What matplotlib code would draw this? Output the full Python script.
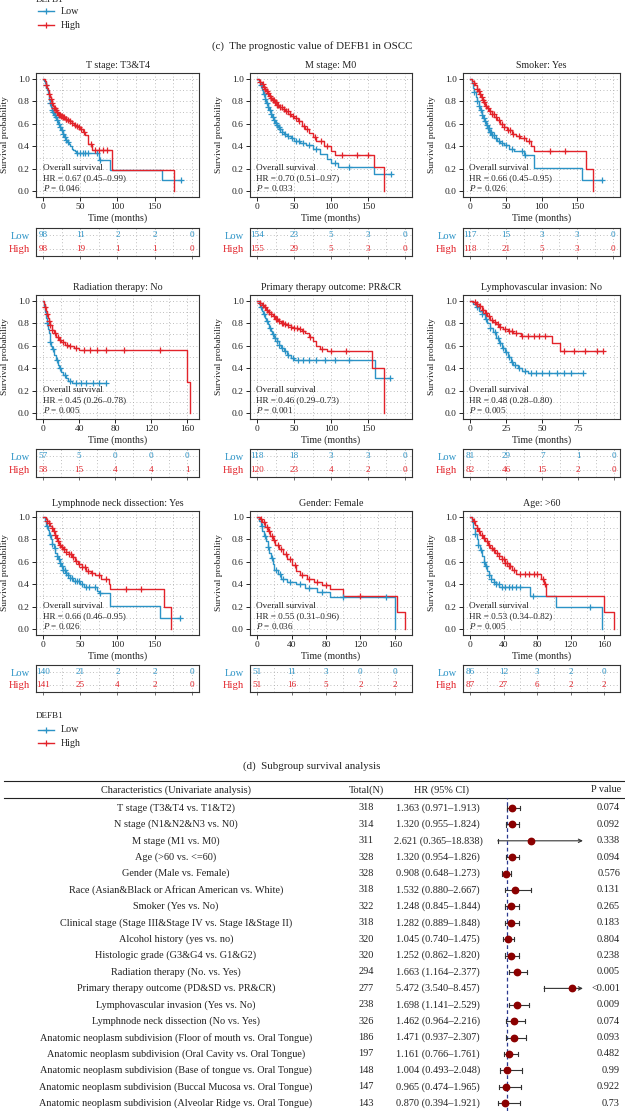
import numpy as np
import matplotlib
matplotlib.use('Agg')
import matplotlib.pyplot as plt
from matplotlib.ticker import MultipleLocator

plt.rcParams['font.family'] = ['Liberation Serif', 'DejaVu Serif']
plt.rcParams['mathtext.fontset'] = 'custom'
plt.rcParams['mathtext.rm'] = 'Liberation Serif'
plt.rcParams['mathtext.it'] = 'Liberation Serif:italic'

LOW_C = '#2b93c6'
HIGH_C = '#e2232a'
TXT = '#222222'

# ---------------- KM panel data ----------------
panel_titles = ["T stage: T3&T4", "M stage: M0", "Smoker: Yes",
                "Radiation therapy: No", "Primary therapy outcome: PR&CR", "Lymphovascular invasion: No",
                "Lymphnode neck dissection: Yes", "Gender: Female", "Age: >60"]
panel_hr = ["0.67 (0.45\u20130.99)", "0.70 (0.51\u20130.97)", "0.66 (0.45\u20130.95)",
            "0.45 (0.26\u20130.78)", "0.46 (0.29\u20130.73)", "0.48 (0.28\u20130.80)",
            "0.66 (0.46\u20130.95)", "0.55 (0.31\u20130.96)", "0.53 (0.34\u20130.82)"]
panel_p = ["0.046", "0.033", "0.026", "0.005", "0.001", "0.005", "0.026", "0.036", "0.005"]

ticks_50 = [0, 50, 100, 150]
ticks_40 = [0, 40, 80, 120, 160]
ticks_25 = [0, 25, 50, 75]
risk_t50 = [0, 50, 100, 150, 200]
risk_t40 = [0, 40, 80, 120, 160]
risk_t25 = [0, 25, 50, 75, 100]

risk_low = [[98, 11, 2, 2, 0], [154, 23, 5, 3, 0], [117, 15, 3, 3, 0],
            [57, 5, 0, 0, 0], [118, 18, 3, 3, 0], [81, 29, 7, 1, 0],
            [140, 21, 2, 2, 0], [51, 11, 3, 0, 0], [86, 12, 3, 2, 0]]
risk_high = [[98, 19, 1, 1, 0], [155, 29, 5, 3, 0], [118, 21, 5, 3, 0],
             [58, 15, 4, 4, 1], [120, 23, 4, 2, 0], [82, 46, 15, 2, 0],
             [141, 25, 4, 2, 0], [51, 16, 5, 2, 2], [87, 27, 6, 2, 2]]

# P1 T stage
p1_low_t = [0,1,2,3,4,5,6,7,8,9,10,11,12,14,16,18,20,22,24,26,28,30,32,34,36,38,40,42,44,75,90,160,186]
p1_low_s = [1.0,0.98,0.96,0.94,0.92,0.90,0.87,0.84,0.81,0.78,0.75,0.72,0.70,0.68,0.66,0.63,0.60,0.57,0.54,0.51,0.48,0.46,0.44,0.42,0.40,0.38,0.37,0.355,0.34,0.28,0.19,0.10,0.10]
p1_low_c = [3,9,11,13,15,17,19,21,23,25,27,29,31,33,45,50,53,56,60,73,77,186]
p1_high_t = [0,2,3,4,5,6,7,8,9,10,11,12,13,14,16,18,20,23,26,29,32,35,38,41,44,47,50,53,56,60,66,92,176]
p1_high_s = [1.0,0.98,0.96,0.94,0.92,0.90,0.88,0.86,0.84,0.82,0.80,0.78,0.76,0.74,0.72,0.70,0.68,0.67,0.66,0.64,0.63,0.62,0.61,0.59,0.58,0.57,0.55,0.53,0.50,0.42,0.37,0.19,0.0]
p1_high_c = [4,8,10,12,14,15,17,19,21,22,24,25,27,28,30,31,33,36,39,42,45,48,51,55,64,70,75,80,86]
# P2 M stage
p2_low_t = [0,2,4,6,8,10,12,14,16,18,20,22,24,26,28,30,33,36,40,45,50,58,66,75,85,95,100,110,158,182]
p2_low_s = [1.0,0.97,0.94,0.90,0.86,0.82,0.78,0.75,0.72,0.69,0.66,0.63,0.61,0.59,0.57,0.55,0.53,0.51,0.49,0.47,0.45,0.43,0.41,0.38,0.33,0.29,0.25,0.22,0.15,0.15]
p2_low_c = [5,9,11,13,15,17,19,21,23,25,27,29,31,34,38,42,47,52,56,62,70,80,105,125,182]
p2_high_t = [0,2,4,6,8,10,12,14,16,18,20,23,26,30,34,38,42,46,50,55,60,65,70,75,80,90,100,105,158,172]
p2_high_s = [1.0,0.99,0.97,0.95,0.93,0.91,0.89,0.87,0.85,0.83,0.81,0.79,0.77,0.75,0.73,0.71,0.69,0.67,0.65,0.62,0.58,0.55,0.52,0.48,0.45,0.40,0.36,0.32,0.22,0.0]
p2_high_c = [4,7,9,11,13,15,17,19,21,22,24,25,27,28,31,33,36,39,41,44,48,52,57,63,68,78,86,95,115,135,150]
# P3 Smoker
p3_low_t = [0,2,4,6,8,10,12,14,16,18,20,22,24,27,30,34,38,42,48,55,62,75,90,157,185]
p3_low_s = [1.0,0.96,0.92,0.88,0.84,0.80,0.76,0.72,0.68,0.65,0.62,0.59,0.56,0.53,0.50,0.47,0.45,0.43,0.41,0.38,0.36,0.32,0.21,0.10,0.10]
p3_low_c = [6,10,13,15,17,19,21,23,25,26,28,29,31,33,36,40,45,50,58,72,77,185]
p3_high_t = [0,3,5,7,9,11,13,15,17,19,21,24,27,30,34,38,42,47,52,58,64,70,78,85,90,163,172]
p3_high_s = [1.0,0.98,0.96,0.94,0.91,0.89,0.86,0.84,0.81,0.79,0.76,0.74,0.71,0.69,0.66,0.63,0.60,0.57,0.54,0.51,0.49,0.47,0.45,0.40,0.36,0.20,0.0]
p3_high_c = [6,9,12,14,16,18,20,22,25,28,31,33,36,40,44,48,53,56,60,68,75,82,112,133]
# P4 Radiation therapy
p4_low_t = [0,1,2,3,4,5,6,7,8,9,10,12,14,16,18,20,22,25,28,32,70]
p4_low_s = [1.0,0.95,0.90,0.85,0.80,0.75,0.71,0.67,0.63,0.60,0.57,0.52,0.47,0.43,0.40,0.37,0.34,0.31,0.29,0.27,0.27]
p4_low_c = [4,8,11,15,19,24,30,36,42,48,55,62,70]
p4_high_t = [0,1,2,3,4,5,6,8,10,12,14,17,20,24,28,34,40,160,163]
p4_high_s = [1.0,0.97,0.94,0.91,0.88,0.85,0.82,0.78,0.74,0.71,0.68,0.65,0.63,0.61,0.60,0.58,0.56,0.28,0.0]
p4_high_c = [2,4,6,8,10,13,16,19,22,26,30,36,45,52,60,70,90,130]
# P5 Primary therapy outcome
p5_low_t = [0,2,4,6,8,10,12,14,16,18,20,23,26,29,32,36,40,45,50,160,180]
p5_low_s = [1.0,0.97,0.94,0.91,0.88,0.85,0.82,0.79,0.76,0.73,0.70,0.67,0.64,0.61,0.58,0.55,0.52,0.49,0.47,0.31,0.31]
p5_low_c = [5,9,13,17,21,24,27,30,34,38,42,48,55,62,70,80,92,105,125,180]
p5_high_t = [0,3,6,9,12,15,18,21,24,28,32,36,40,45,50,55,60,65,70,75,80,85,95,155,172]
p5_high_s = [1.0,0.98,0.96,0.94,0.92,0.90,0.88,0.86,0.84,0.82,0.80,0.79,0.78,0.77,0.76,0.75,0.73,0.71,0.68,0.64,0.60,0.57,0.55,0.40,0.0]
p5_high_c = [4,7,10,13,16,19,22,25,27,30,33,35,38,42,46,50,54,58,62,72,88,100,120]
# P6 Lymphovascular invasion
p6_low_t = [0,2,4,6,8,10,12,14,16,18,20,22,24,26,28,30,33,36,40,78]
p6_low_s = [1.0,0.97,0.94,0.91,0.88,0.84,0.80,0.76,0.72,0.67,0.62,0.58,0.54,0.50,0.46,0.43,0.40,0.38,0.36,0.36]
p6_low_c = [5,8,11,14,17,19,21,23,25,27,29,31,34,38,42,46,50,55,60,65,70,78]
p6_high_t = [0,2,4,6,8,10,12,14,16,18,20,23,26,30,35,57,62,92]
p6_high_s = [1.0,0.99,0.97,0.95,0.92,0.89,0.86,0.83,0.81,0.79,0.77,0.75,0.73,0.71,0.69,0.62,0.55,0.55]
p6_high_c = [3,5,7,9,11,13,15,17,19,21,24,27,29,32,36,40,44,48,52,65,72,80,88,92]
# P7 Lymphnode neck dissection
p7_low_t = [0,2,4,6,8,10,12,14,16,18,20,22,24,27,30,33,36,40,50,55,72,75,90,157,185]
p7_low_s = [1.0,0.96,0.92,0.88,0.84,0.80,0.76,0.72,0.68,0.65,0.62,0.59,0.56,0.53,0.50,0.48,0.46,0.43,0.40,0.38,0.34,0.32,0.21,0.10,0.10]
p7_low_c = [5,9,12,15,18,21,23,25,27,29,31,33,36,39,42,45,48,52,58,62,70,76,185]
p7_high_t = [0,3,5,7,9,11,13,15,17,19,21,24,27,30,34,38,42,47,52,58,64,70,78,88,90,163,172]
p7_high_s = [1.0,0.98,0.96,0.94,0.92,0.90,0.87,0.84,0.81,0.78,0.75,0.73,0.71,0.69,0.67,0.64,0.61,0.58,0.55,0.52,0.50,0.48,0.45,0.40,0.36,0.20,0.0]
p7_high_c = [5,8,11,14,16,18,20,22,25,28,31,34,37,40,44,48,52,56,60,66,75,85,112,132]
# P8 Gender
p8_low_t = [0,2,4,6,8,10,12,14,16,18,20,24,28,35,45,55,70,85,160]
p8_low_s = [1.0,0.96,0.92,0.87,0.83,0.78,0.73,0.68,0.63,0.58,0.53,0.49,0.45,0.42,0.40,0.37,0.33,0.29,0.0]
p8_low_c = [5,9,13,17,22,26,30,38,50,60,75,100,150]
p8_high_t = [0,3,6,9,12,15,18,21,25,30,35,40,45,50,58,66,75,85,100,163,172]
p8_high_s = [1.0,0.98,0.95,0.91,0.87,0.83,0.79,0.75,0.71,0.67,0.62,0.57,0.52,0.48,0.45,0.42,0.39,0.36,0.30,0.15,0.0]
p8_high_c = [4,8,11,14,17,20,24,28,33,38,44,52,60,70,80,120]
# P9 Age
p9_low_t = [0,2,4,6,8,10,12,14,16,18,20,22,25,28,31,35,72,102,158]
p9_low_s = [1.0,0.95,0.90,0.85,0.80,0.75,0.70,0.65,0.60,0.56,0.52,0.48,0.45,0.42,0.40,0.38,0.30,0.20,0.0]
p9_low_c = [6,10,13,16,19,22,25,28,31,34,38,42,46,50,55,60,75,143]
p9_high_t = [0,2,4,6,8,10,12,15,18,21,24,27,30,34,38,42,46,50,55,85,88,91,160,172]
p9_high_s = [1.0,0.98,0.96,0.93,0.90,0.87,0.84,0.81,0.78,0.75,0.72,0.70,0.68,0.65,0.62,0.59,0.56,0.53,0.49,0.45,0.40,0.30,0.15,0.0]
p9_high_c = [5,8,11,14,17,20,23,26,29,32,35,38,40,42,44,46,48,52,60,65,70,76,80,87,90]

# ---------------- Forest table data ----------------
characteristics = [
    "T stage (T3&T4 vs. T1&T2)", "N stage (N1&N2&N3 vs. N0)", "M stage (M1 vs. M0)",
    "Age (>60 vs. <=60)", "Gender (Male vs. Female)",
    "Race (Asian&Black or African American vs. White)", "Smoker (Yes vs. No)",
    "Clinical stage (Stage III&Stage IV vs. Stage I&Stage II)", "Alcohol history (yes vs. no)",
    "Histologic grade (G3&G4 vs. G1&G2)", "Radiation therapy (No. vs. Yes)",
    "Primary therapy outcome (PD&SD vs. PR&CR)", "Lymphovascular invasion (Yes vs. No)",
    "Lymphnode neck dissection (No vs. Yes)",
    "Anatomic neoplasm subdivision (Floor of mouth vs. Oral Tongue)",
    "Anatomic neoplasm subdivision (Oral Cavity vs. Oral Tongue)",
    "Anatomic neoplasm subdivision (Base of tongue vs. Oral Tongue)",
    "Anatomic neoplasm subdivision (Buccal Mucosa vs. Oral Tongue)",
    "Anatomic neoplasm subdivision (Alveolar Ridge vs. Oral Tongue)"]
totals = [318, 314, 311, 328, 328, 318, 322, 318, 320, 320, 294, 277, 238, 326, 186, 197, 148, 147, 143]
hr_vals = [1.363, 1.320, 2.621, 1.320, 0.908, 1.532, 1.248, 1.282, 1.045, 1.252, 1.663, 5.472, 1.698, 1.462, 1.471, 1.161, 1.004, 0.965, 0.870]
ci_low = [0.971, 0.955, 0.365, 0.954, 0.648, 0.880, 0.845, 0.889, 0.740, 0.862, 1.164, 3.540, 1.141, 0.964, 0.937, 0.766, 0.493, 0.474, 0.394]
ci_high = [1.913, 1.824, 18.838, 1.826, 1.273, 2.667, 1.844, 1.848, 1.475, 1.820, 2.377, 8.457, 2.529, 2.216, 2.307, 1.761, 2.048, 1.965, 1.921]
p_values = ["0.074", "0.092", "0.338", "0.094", "0.576", "0.131", "0.265", "0.183", "0.804", "0.238",
            "0.005", "<0.001", "0.009", "0.074", "0.093", "0.482", "0.99", "0.922", "0.73"]

curves = [
    (p1_low_t, p1_low_s, p1_low_c, p1_high_t, p1_high_s, p1_high_c),
    (p2_low_t, p2_low_s, p2_low_c, p2_high_t, p2_high_s, p2_high_c),
    (p3_low_t, p3_low_s, p3_low_c, p3_high_t, p3_high_s, p3_high_c),
    (p4_low_t, p4_low_s, p4_low_c, p4_high_t, p4_high_s, p4_high_c),
    (p5_low_t, p5_low_s, p5_low_c, p5_high_t, p5_high_s, p5_high_c),
    (p6_low_t, p6_low_s, p6_low_c, p6_high_t, p6_high_s, p6_high_c),
    (p7_low_t, p7_low_s, p7_low_c, p7_high_t, p7_high_s, p7_high_c),
    (p8_low_t, p8_low_s, p8_low_c, p8_high_t, p8_high_s, p8_high_c),
    (p9_low_t, p9_low_s, p9_low_c, p9_high_t, p9_high_s, p9_high_c),
]
panel_ticks = [ticks_50, ticks_50, ticks_50, ticks_40, ticks_50, ticks_25, ticks_50, ticks_40, ticks_40]
panel_risk_t = [risk_t50, risk_t50, risk_t50, risk_t40, risk_t50, risk_t25, risk_t50, risk_t40, risk_t40]
panel_xlim = [(-10, 210), (-10, 210), (-10, 210), (-8, 173), (-10, 210), (-5, 104), (-10, 210), (-8.5, 180), (-8.5, 179)]

# ---------------- figure ----------------
W, H = 625, 1111
fig = plt.figure(figsize=(W / 100, H / 100), dpi=100)
fig.patch.set_facecolor('white')


def px_axes(x0, y0, x1, y1, **kw):
    return fig.add_axes([x0 / W, 1 - y1 / H, (x1 - x0) / W, (y1 - y0) / H], **kw)


ov = px_axes(0, 0, W, H)
ov.set_xlim(0, W)
ov.set_ylim(H, 0)
ov.axis('off')

col_x = [(36, 199), (250, 412), (463, 620)]
row_y = [(73, 197), (295, 419), (511, 635)]
risk_y = [(228, 256), (449, 477), (665, 692)]
GRID_KW = dict(color='#a8a8a8', lw=0.6, ls=(0, (1, 3)))


def km(ax, t, s, c, color):
    t = np.asarray(t, float)
    s = np.asarray(s, float)
    ax.step(t, s, where='post', color=color, lw=1.0, zorder=3)
    c = np.asarray(c, float)
    idx = np.searchsorted(t, c, side='right') - 1
    ax.plot(c, s[idx], '+', color=color, ms=5, mew=0.9, zorder=4)


for i in range(9):
    r, cc = divmod(i, 3)
    x0, x1 = col_x[cc]
    y0, y1 = row_y[r]
    ax = px_axes(x0, y0, x1, y1)
    ax.set_xlim(panel_xlim[i])
    ax.set_ylim(-0.05, 1.05)
    step = panel_ticks[i][1] - panel_ticks[i][0]
    ax.set_xticks(panel_ticks[i])
    ax.set_yticks([0, 0.2, 0.4, 0.6, 0.8, 1.0])
    ax.set_yticklabels(['0.0', '0.2', '0.4', '0.6', '0.8', '1.0'])
    ax.xaxis.set_minor_locator(MultipleLocator(step / 2))
    ax.yaxis.set_minor_locator(MultipleLocator(0.1))
    ax.tick_params(which='major', labelsize=6.8, length=3, width=0.7, pad=1.5, colors=TXT)
    ax.tick_params(which='minor', length=0)
    ax.set_axisbelow(True)
    ax.grid(which='both', **GRID_KW)
    for sp in ax.spines.values():
        sp.set_linewidth(0.8)
        sp.set_color('#333333')
    lt, ls_, lc, ht, hs, hc = curves[i]
    km(ax, lt, ls_, lc, LOW_C)
    km(ax, ht, hs, hc, HIGH_C)
    xl = panel_xlim[i][0] + 0.04 * (panel_xlim[i][1] - panel_xlim[i][0])
    ax.text(xl, 0.21, "Overall survival", fontsize=6.6, color=TXT, va='center', ha='left')
    ax.text(xl, 0.12, "HR = " + panel_hr[i], fontsize=6.6, color=TXT, va='center', ha='left')
    ax.text(xl, 0.03, "$P$ = " + panel_p[i], fontsize=6.6, color=TXT, va='center', ha='left')

    cx = (x0 + x1) / 2
    ov.text(cx, y0 - 7, panel_titles[i], fontsize=7.2, ha='center', va='center', color=TXT)
    ov.text(cx, y1 + 21, "Time (months)", fontsize=7.2, ha='center', va='center', color=TXT)
    ov.text(x0 - 31, (y0 + y1) / 2, "Survival probability", fontsize=6.8, rotation=90,
            ha='center', va='center', color=TXT)

    # risk table
    ry0, ry1 = risk_y[r]
    rax = px_axes(x0, ry0, x1, ry1)
    rax.set_xlim(panel_xlim[i])
    rax.set_ylim(0.45, 2.55)
    rax.set_xticks(panel_risk_t[i])
    rax.set_xticklabels([])
    rax.xaxis.set_minor_locator(MultipleLocator(step / 2))
    rax.set_yticks([1, 2])
    rax.set_yticklabels(['High', 'Low'])
    for lab, col in zip(rax.get_yticklabels(), [HIGH_C, LOW_C]):
        lab.set_color(col)
    rax.tick_params(axis='y', length=0, labelsize=7.6, pad=4)
    rax.tick_params(axis='x', which='major', length=2.5, width=0.6, colors='#555555')
    rax.tick_params(axis='x', which='minor', length=0)
    rax.set_axisbelow(True)
    rax.grid(which='both', **GRID_KW)
    for sp in rax.spines.values():
        sp.set_linewidth(0.8)
        sp.set_color('#333333')
    for j, tm in enumerate(panel_risk_t[i]):
        rax.text(tm, 2, str(risk_low[i][j]), color=LOW_C, fontsize=6.6, ha='center', va='center')
        rax.text(tm, 1, str(risk_high[i][j]), color=HIGH_C, fontsize=6.6, ha='center', va='center')


def legend_block(ytitle, ylow, yhigh, title_va='center'):
    ov.text(36, ytitle, "DEFB1", fontsize=6.6, va=title_va, ha='left', color=TXT)
    for yy, col, lab in [(ylow, LOW_C, "Low"), (yhigh, HIGH_C, "High")]:
        ov.plot([38, 54], [yy, yy], color=col, lw=1.0)
        ov.plot([46], [yy], '+', color=col, ms=5, mew=0.9)
        ov.text(61, yy, lab, fontsize=7.2, va='center', ha='left', color=TXT)


legend_block(1.5, 11, 25, title_va='baseline')
legend_block(716, 730, 743)

ov.text(312, 46, "(c)  The prognostic value of DEFB1 in OSCC", fontsize=7.8, ha='center', va='center', color=TXT)
ov.text(312, 766, "(d)  Subgroup survival analysis", fontsize=7.8, ha='center', va='center', color=TXT)

# ---------------- forest table ----------------
top_line, header_y, header_line = 781, 790, 798
row0, row_dy = 808, 16.4
FS = 7.4
ov.plot([4, W], [top_line, top_line], color='#222222', lw=0.8)
ov.plot([4, W], [header_line, header_line], color='#222222', lw=0.8)
ov.text(176, header_y, "Characteristics (Univariate analysis)", fontsize=FS, ha='center', va='center', color=TXT)
ov.text(366, header_y, "Total(N)", fontsize=FS, ha='center', va='center', color=TXT)
ov.text(442, header_y, "HR (95% CI)", fontsize=FS, ha='center', va='center', color=TXT)
ov.text(621, header_y, "P value", fontsize=FS, ha='right', va='center', color=TXT)

hr_min, hr_max = 0.3, 6.2
hr1_px, px_per_hr = 507, 14.6
fx0 = hr1_px - px_per_hr * (1 - hr_min)
fx1 = hr1_px + px_per_hr * (hr_max - 1)
fax = px_axes(fx0, header_line, fx1, H)
fax.set_xlim(hr_min, hr_max)
fax.set_ylim(H, header_line)
fax.axis('off')
fax.axvline(1, color='#2b3990', lw=0.9, ls=(0, (3, 2.2)), zorder=1)

for k in range(len(characteristics)):
    y = row0 + row_dy * k
    ov.text(176, y, characteristics[k], fontsize=FS, ha='center', va='center', color=TXT)
    ov.text(366, y, str(totals[k]), fontsize=FS, ha='center', va='center', color=TXT)
    ov.text(438, y, f"{hr_vals[k]:.3f} ({ci_low[k]:.3f}\u2013{ci_high[k]:.3f})", fontsize=FS,
            ha='center', va='center', color=TXT)
    ov.text(620, y, p_values[k], fontsize=FS, ha='right', va='center', color=TXT)
    lo, hi = ci_low[k], ci_high[k]
    fax.plot([lo, lo], [y - 2.2, y + 2.2], color='#333333', lw=0.8, zorder=2)
    if hi > hr_max:
        fax.annotate('', xy=(hr_max, y), xytext=(lo, y),
                     arrowprops=dict(arrowstyle='->', lw=0.8, color='#333333',
                                     shrinkA=0, shrinkB=0, mutation_scale=6),
                     annotation_clip=False, zorder=2)
    else:
        fax.plot([lo, hi], [y, y], color='#333333', lw=0.8, zorder=2)
        fax.plot([hi, hi], [y - 2.2, y + 2.2], color='#333333', lw=0.8, zorder=2)
    fax.plot([hr_vals[k]], [y], 'o', color='#8b0000', ms=4.6, zorder=3)

fig.savefig('out.png', dpi=100)
